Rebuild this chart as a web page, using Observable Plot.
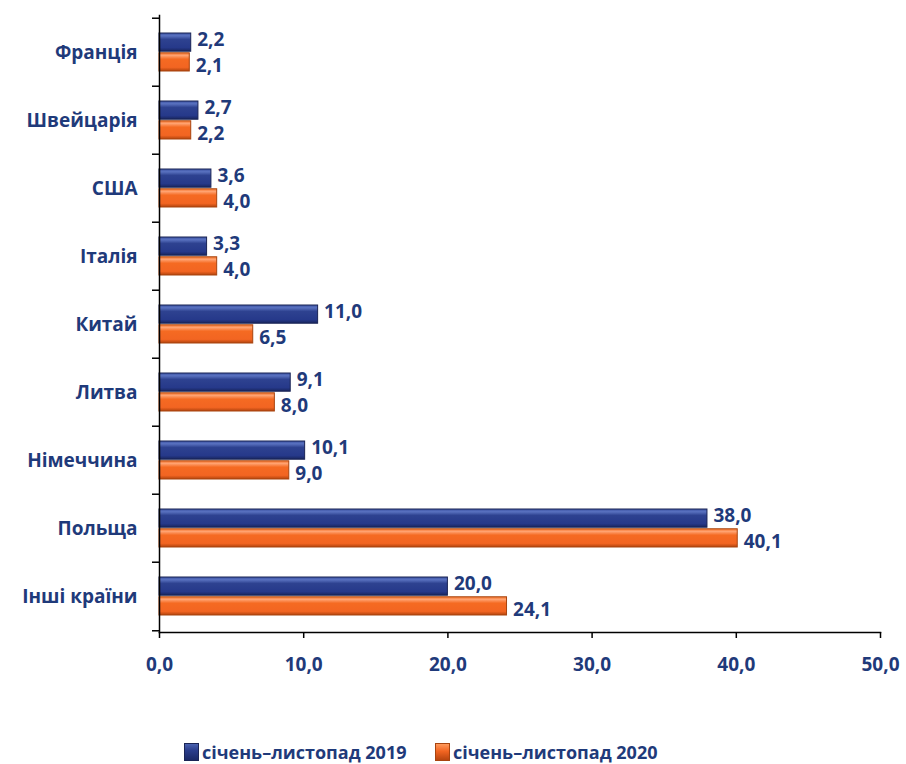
<!DOCTYPE html>
<html><head><meta charset="utf-8">
<script src="https://cdn.jsdelivr.net/npm/d3@7"></script>
<script src="https://cdn.jsdelivr.net/npm/@observablehq/plot@0.6"></script>
<style>
body{margin:0;background:#fff;font-family:"Open Sans",sans-serif;}
#chart svg{display:block;}
#legend{position:relative;margin-top:20px;height:24px;font-weight:bold;font-size:18px;color:#1f3a7a;white-space:nowrap;}
.item{position:absolute;top:0;height:24px;display:flex;align-items:center;}
.sw{width:15px;height:18px;margin-right:3px;box-sizing:border-box;}
.sw.b{background:linear-gradient(#4a62b0,#2a3d8c 40%,#1a2866);border:1px solid #1a2455;}
.sw.o{background:linear-gradient(#ff9a5c,#f26522 45%,#b8450f);border:1px solid #a8440f;}
</style></head><body>
<div id="chart"></div>
<div id="legend"></div>
<script>
const countries = ["Франція","Швейцарія","США","Італія","Китай","Литва","Німеччина","Польща","Інші країни"];
const values2019 = [2.2,2.7,3.6,3.3,11.0,9.1,10.1,38.0,20.0];
const values2020 = [2.1,2.2,4.0,4.0,6.5,8.0,9.0,40.1,24.1];
const seriesNames = ["січень–листопад 2019","січень–листопад 2020"];
const xTicks = [0,10,20,30,40,50];

const fmt = d => d.toFixed(1).replace(".", ",");
const data2019 = countries.map((c,i)=>({country:c, value:values2019[i]}));
const data2020 = countries.map((c,i)=>({country:c, value:values2020[i]}));

const W = 906, H = 720, mt = 15, mb = 88, ml = 159, mr = 26;
const bw = (H - mt - mb) / countries.length;
const navy = "#1f3a7a";
const font = 19;

const chart = Plot.plot({
  width: W, height: H,
  marginTop: mt, marginBottom: mb, marginLeft: ml, marginRight: mr,
  style: {fontFamily: '"Open Sans", sans-serif', fontWeight: "bold", fontSize: font + "px", color: navy, background: "#fff"},
  x: {domain: [0, 50]},
  y: {domain: countries, padding: 0},
  marks: [
    Plot.barX(data2019, {x: "value", y: "country", fill: "url(#gBlue)", stroke: "#1a2455", strokeWidth: 1, insetTop: 15, insetBottom: bw/2 + 0.5}),
    Plot.barX(data2020, {x: "value", y: "country", fill: "url(#gOrange)", stroke: "#a8440f", strokeWidth: 1, insetTop: bw/2 + 0.5, insetBottom: 15}),
    Plot.text(data2019, {x: "value", y: "country", text: d => fmt(d.value), textAnchor: "start", dx: 6, dy: -13, fill: navy, fontWeight: "bold", fontSize: font}),
    Plot.text(data2020, {x: "value", y: "country", text: d => fmt(d.value), textAnchor: "start", dx: 6, dy: 13, fill: navy, fontWeight: "bold", fontSize: font}),
    Plot.frame({anchor: "left", stroke: "#000", strokeWidth: 1.5}),
    Plot.frame({anchor: "bottom", stroke: "#000", strokeWidth: 1.5}),
    Plot.axisY({tickSize: 0, tickPadding: 22, fill: navy, fontWeight: "bold", fontSize: font, label: null}),
    Plot.axisY({ticks: countries, tickSize: 7, tickFormat: () => "", dy: -bw/2, stroke: "#000", strokeWidth: 1.5, label: null}),
    Plot.axisY({ticks: [countries[countries.length-1]], tickSize: 7, tickFormat: () => "", dy: bw/2, stroke: "#000", strokeWidth: 1.5, label: null}),
    Plot.axisX({ticks: xTicks, tickSize: 6, tickPadding: 19, tickFormat: fmt, stroke: "#000", strokeWidth: 1.5, fill: navy, fontWeight: "bold", fontSize: font, label: null})
  ]
});

const ns = "http://www.w3.org/2000/svg";
const defs = document.createElementNS(ns, "defs");
function grad(id, stops){
  const g = document.createElementNS(ns, "linearGradient");
  g.setAttribute("id", id); g.setAttribute("x1","0"); g.setAttribute("y1","0"); g.setAttribute("x2","0"); g.setAttribute("y2","1");
  stops.forEach(([o,c])=>{const s=document.createElementNS(ns,"stop"); s.setAttribute("offset",o); s.setAttribute("stop-color",c); g.appendChild(s);});
  defs.appendChild(g);
}
grad("gBlue", [[0,"#3b52a3"],[0.15,"#5a72c0"],[0.35,"#2e4290"],[0.8,"#26398a"],[1,"#18255e"]]);
grad("gOrange", [[0,"#f4742c"],[0.15,"#ffa270"],[0.35,"#f56a22"],[0.8,"#f26522"],[1,"#b3440e"]]);
chart.insertBefore(defs, chart.firstChild);
document.getElementById("chart").appendChild(chart);

const legend = document.getElementById("legend");
const legendLeft = [184, 435];
seriesNames.forEach((n,i)=>{
  const it = document.createElement("div"); it.className = "item"; it.style.left = legendLeft[i] + "px";
  const sw = document.createElement("span"); sw.className = "sw " + (i===0 ? "b" : "o");
  const tx = document.createElement("span"); tx.textContent = n;
  it.appendChild(sw); it.appendChild(tx); legend.appendChild(it);
});
</script>
</body></html>
